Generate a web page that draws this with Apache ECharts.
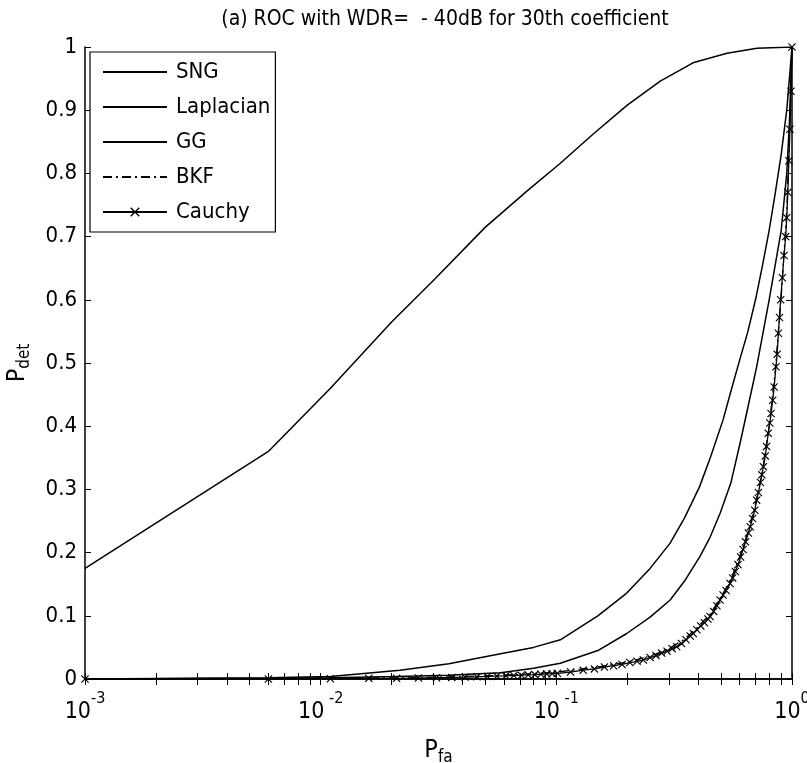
<!DOCTYPE html>
<html>
<head>
<meta charset="utf-8">
<script src="https://cdn.jsdelivr.net/npm/echarts@6/dist/echarts.min.js"></script>
<style>
html,body{margin:0;padding:0;background:#fff;}
#chart{width:807px;height:763px;}
</style>
</head>
<body>
<div id="chart"></div>
<script>
// ---- data ----
const titleText = '(a) ROC with WDR=  - 40dB for 30th coefficient';
const seriesNames = ['SNG', 'Laplacian', 'GG', 'BKF', 'Cauchy'];
const yTicks = [0, 0.1, 0.2, 0.3, 0.4, 0.5, 0.6, 0.7, 0.8, 0.9, 1];
const xMajorTicks = [0.001, 0.01, 0.1, 1];
const xMinorTicks = [0.002,0.003,0.004,0.005,0.006,0.007,0.008,0.009,
                     0.02,0.03,0.04,0.05,0.06,0.07,0.08,0.09,
                     0.2,0.3,0.4,0.5,0.6,0.7,0.8,0.9];

const pfaSNG  = [0.001, 0.006, 0.011, 0.02, 0.03, 0.05, 0.075, 0.104, 0.143, 0.2, 0.276, 0.38, 0.53, 0.71, 1];
const pdetSNG = [0.175, 0.36, 0.46, 0.565, 0.63, 0.715, 0.772, 0.816, 0.862, 0.908, 0.946, 0.975, 0.99, 0.998, 1];

const pfaLap  = [0.001, 0.006, 0.011, 0.021, 0.035, 0.058, 0.08, 0.104, 0.15, 0.199, 0.25, 0.304, 0.35, 0.407, 0.45, 0.495, 0.55, 0.602, 0.65, 0.708, 0.8, 0.9, 0.95, 0.975, 1];
const pdetLap = [0, 0.001, 0.002, 0.004, 0.006, 0.01, 0.017, 0.025, 0.045, 0.072, 0.098, 0.125, 0.155, 0.194, 0.225, 0.262, 0.31, 0.373, 0.43, 0.494, 0.6, 0.71, 0.8, 0.88, 1];

const pfaGG  = [0.001, 0.006, 0.011, 0.0217, 0.035, 0.058, 0.08, 0.104, 0.15, 0.199, 0.25, 0.304, 0.35, 0.405, 0.45, 0.51, 0.55, 0.6, 0.65, 0.7, 0.75, 0.8, 0.85, 0.9, 0.95, 0.975, 1];
const pdetGG = [0, 0.002, 0.004, 0.014, 0.024, 0.04, 0.05, 0.062, 0.1, 0.136, 0.175, 0.215, 0.255, 0.304, 0.35, 0.41, 0.455, 0.505, 0.55, 0.6, 0.655, 0.71, 0.77, 0.83, 0.9, 0.95, 1];

const pfaBKF  = [0.001, 0.011, 0.026, 0.051, 0.076, 0.101, 0.15, 0.2, 0.25, 0.3, 0.35, 0.4, 0.45, 0.5, 0.55, 0.6, 0.65, 0.7, 0.75, 0.8, 0.85, 0.9, 0.95, 0.975, 1];
const pdetBKF = [0, 0.001, 0.002, 0.005, 0.008, 0.011, 0.019, 0.027, 0.036, 0.048, 0.063, 0.083, 0.103, 0.13, 0.157, 0.194, 0.232, 0.277, 0.33, 0.4, 0.49, 0.605, 0.74, 0.86, 1];

const pfaCau  = [0.001, 0.006, 0.011, 0.016, 0.021, 0.026, 0.031, 0.036, 0.041, 0.046, 0.051, 0.056, 0.061, 0.066, 0.071, 0.076, 0.081, 0.086, 0.091, 0.096, 0.101,
                 0.115, 0.13, 0.145, 0.16, 0.175, 0.19, 0.205, 0.22, 0.234, 0.25, 0.265, 0.28, 0.295, 0.31, 0.324, 0.34, 0.355, 0.37, 0.381, 0.395, 0.41, 0.425, 0.44, 0.449,
                 0.465, 0.48, 0.495, 0.51, 0.525, 0.546, 0.56, 0.575, 0.59, 0.605, 0.62, 0.635, 0.653, 0.665, 0.68, 0.695, 0.708, 0.72, 0.735, 0.745, 0.756, 0.77,
                 0.78, 0.793, 0.805, 0.815, 0.828, 0.84, 0.855, 0.865, 0.875, 0.885, 0.895, 0.91, 0.925, 0.94, 0.95, 0.96, 0.97, 0.98, 0.99, 1];
const pdetCau = [0, 0, 0.0005, 0.001, 0.001, 0.0015, 0.002, 0.0025, 0.003, 0.0035, 0.004, 0.0045, 0.005, 0.0055, 0.006, 0.0065, 0.007, 0.0075, 0.008, 0.0085, 0.009,
                 0.011, 0.014, 0.016, 0.019, 0.021, 0.023, 0.026, 0.028, 0.03, 0.034, 0.037, 0.041, 0.044, 0.048, 0.051, 0.056, 0.062, 0.068, 0.072, 0.078, 0.084, 0.089, 0.095, 0.099,
                 0.107, 0.116, 0.125, 0.133, 0.14, 0.151, 0.16, 0.17, 0.181, 0.193, 0.205, 0.217, 0.231, 0.241, 0.254, 0.267, 0.283, 0.295, 0.311, 0.323, 0.336, 0.353,
                 0.368, 0.389, 0.405, 0.42, 0.441, 0.462, 0.494, 0.514, 0.547, 0.572, 0.6, 0.635, 0.67, 0.7, 0.73, 0.77, 0.82, 0.87, 0.93, 1];

// ---- build ----
const pairs = (xs, ys) => xs.map((x, i) => [x, ys[i]]);
const FONT = "'Liberation Sans Narrow', 'DejaVu Sans Condensed', 'Liberation Sans', sans-serif";
const xMark = 'path://M0,1L1,0L5,4L9,0L10,1L6,5L10,9L9,10L5,6L1,10L0,9L4,5Z';

const chart = echarts.init(document.getElementById('chart'), null, {renderer: 'canvas'});

const xLabelFmt = v => {
  const e = Math.round(Math.log10(v));
  return '{b|10}{s|' + (e === 0 ? '0' : (e === -3 ? '-3' : ' ' + e)) + '}';
};
const xLabelRich = {
  b: {fontFamily: FONT, fontSize: 23, color: '#000', padding: [10, 0, 0, 0]},
  s: {fontFamily: FONT, fontSize: 16, color: '#000', padding: [0, 0, 12, 0], verticalAlign: 'top'}
};

const lineBase = {type: 'line', showSymbol: false, symbol: 'none', smooth: false, z: 3};
const hideSym = {opacity: 0};

chart.setOption({
  animation: false,
  backgroundColor: '#fff',
  title: {
    text: titleText, left: 440, textAlign: 'center', top: 4,
    textStyle: {fontFamily: FONT, fontSize: 21, fontWeight: 'normal', color: '#000'}
  },
  grid: {left: 85, right: 15, top: 47, bottom: 84, containLabel: false, outerBoundsMode: 'none'},
  legend: {
    orient: 'vertical', left: 90, top: 52,
    data: [
      {name: 'SNG', itemStyle: hideSym},
      {name: 'Laplacian', itemStyle: hideSym},
      {name: 'GG', itemStyle: hideSym},
      {name: 'BKF', itemStyle: hideSym},
      {name: 'Cauchy'}
    ],
    backgroundColor: '#fff', borderColor: '#000', borderWidth: 1.2,
    padding: [9, 5, 9, 12],
    itemWidth: 64, itemHeight: 12, itemGap: 13,
    textStyle: {fontFamily: FONT, fontSize: 22, color: '#000', padding: [0, 0, 0, 4]},
    selectedMode: false
  },
  xAxis: [{
    type: 'log', logBase: 10, min: 0.001, max: 1,
    name: 'P{sub|fa}', nameLocation: 'middle', nameGap: 56,
    nameTextStyle: {fontFamily: FONT, fontSize: 25, color: '#000',
      rich: {sub: {fontFamily: FONT, fontSize: 17, color: '#000', padding: [14, 0, 0, 0]}}},
    axisLine: {lineStyle: {color: '#000', width: 1.5}},
    axisTick: {show: true, inside: true, length: 6, lineStyle: {color: '#000', width: 1},
      customValues: xMajorTicks.concat(xMinorTicks)},
    axisLabel: {customValues: xMajorTicks, formatter: xLabelFmt, rich: xLabelRich, margin: 12},
    splitLine: {show: false}, minorTick: {show: false}
  }, {
    type: 'log', logBase: 10, min: 0.001, max: 1, position: 'top',
    axisLine: {lineStyle: {color: '#000', width: 1.5}},
    axisTick: {show: true, inside: true, length: 6, lineStyle: {color: '#000', width: 1},
      customValues: xMajorTicks.concat(xMinorTicks)},
    axisLabel: {show: false}, splitLine: {show: false}
  }],
  yAxis: [{
    type: 'value', min: 0, max: 1, interval: 0.1,
    name: 'P{sub|det}', nameLocation: 'middle', nameGap: 52, nameRotate: 90,
    nameTextStyle: {fontFamily: FONT, fontSize: 25, color: '#000',
      rich: {sub: {fontFamily: FONT, fontSize: 17, color: '#000', padding: [14, 0, 0, 0]}}},
    axisLine: {show: true, lineStyle: {color: '#000', width: 1.5}},
    axisTick: {show: true, inside: true, length: 6, lineStyle: {color: '#000', width: 1}},
    axisLabel: {fontFamily: FONT, fontSize: 22, color: '#000', margin: 8},
    splitLine: {show: false}
  }, {
    type: 'value', min: 0, max: 1, interval: 0.1, position: 'right',
    axisLine: {show: true, lineStyle: {color: '#000', width: 1.5}},
    axisTick: {show: true, inside: true, length: 6, lineStyle: {color: '#000', width: 1}},
    axisLabel: {show: false}, splitLine: {show: false}
  }],
  series: [
    Object.assign({}, lineBase, {name: 'SNG', data: pairs(pfaSNG, pdetSNG),
      lineStyle: {color: '#000', width: 1.5}, itemStyle: {color: '#000'}}),
    Object.assign({}, lineBase, {name: 'Laplacian', data: pairs(pfaLap, pdetLap),
      lineStyle: {color: '#000', width: 1.5}, itemStyle: {color: '#000'}}),
    Object.assign({}, lineBase, {name: 'GG', data: pairs(pfaGG, pdetGG),
      lineStyle: {color: '#000', width: 1.5}, itemStyle: {color: '#000'}}),
    Object.assign({}, lineBase, {name: 'BKF', data: pairs(pfaBKF, pdetBKF),
      lineStyle: {color: '#000', width: 1.3, type: [9, 4, 2, 4]}, itemStyle: {color: '#000'}}),
    {type: 'line', name: 'Cauchy', data: pairs(pfaCau, pdetCau), z: 4,
      showSymbol: true, showAllSymbol: true, symbol: xMark, symbolSize: 8,
      lineStyle: {color: '#000', width: 1.3}, itemStyle: {color: '#000'}}
  ]
});
</script>
</body>
</html>
